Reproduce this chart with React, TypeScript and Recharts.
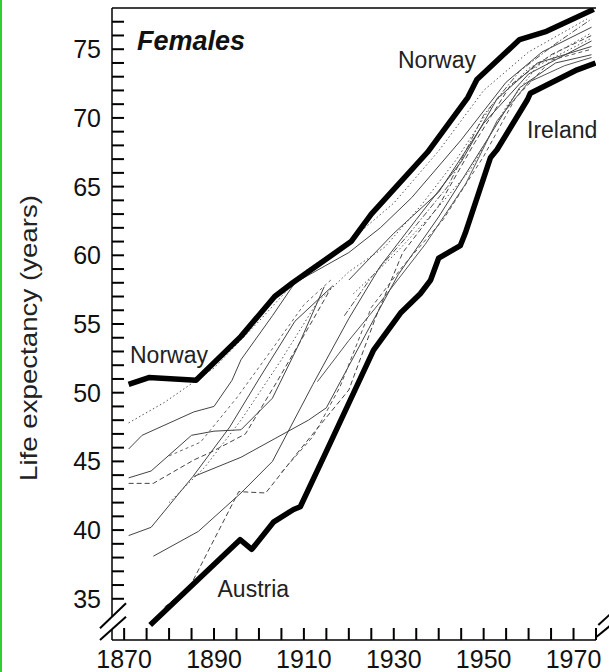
import React from 'react';
import { LineChart, Line, XAxis, YAxis } from 'recharts';

type P = { year: number; v: number | null };
const mk = (pts: [number, number | null][]): P[] => pts.map(([year, v]) => ({ year, v }));

// Thick envelope lines
const norway = mk([[1871,50.6],[1875.5,51.1],[1886,50.9],[1896,54.1],[1903.5,57.0],[1907.5,58.0],[1920.5,61.0],[1925,63.0],[1930,64.8],[1937.5,67.5],[1946.5,71.5],[1948.5,72.8],[1958,75.7],[1964,76.3],[1974.5,77.9]]);
const austriaIreland = mk([[1875.8,33.1],[1895.8,39.3],[1898.4,38.6],[1903.3,40.6],[1907.7,41.5],[1909.2,41.7],[1915.1,45.8],[1925.5,53.1],[1931.5,55.8],[1935.9,57.2],[1938.2,58.2],[1940,59.8],[1944.8,60.7],[1945.9,61.6],[1951.5,67.1],[1953,67.7],[1959.7,71.3],[1960.4,71.8],[1970.8,73.5],[1974.9,74.0]]);

// Thin lines (other countries)
const c1 = mk([[1871,45.9],[1874,46.9],[1885.5,48.6],[1890,49.0],[1894,50.9],[1896,52.4],[1903,55.6],[1908,58.0],[1920,60.2],[1927,62.0],[1934,64.2],[1945,68.4],[1955,72.6],[1963,74.8],[1974,76.6]]);
const c2 = mk([[1871,47.8],[1879,49.3],[1890,51.8],[1900,55.2],[1910,58.8],[1920,61.0],[1930,63.8],[1940,67.6],[1950,72.0],[1960,74.8],[1973,77.2]]);
const c3 = mk([[1871,43.8],[1876,44.3],[1885,46.9],[1890,47.2],[1896,47.3],[1903,49.6],[1909,53.6],[1914.5,57.7],[1917,null],[1920,58.2],[1930,61.6],[1940,64.6],[1950,69.6],[1960,73.2],[1974,75.6]]);
const c4 = mk([[1871,43.4],[1876.5,43.4],[1885.5,45.1],[1889.5,45.7],[1897,47.0],[1904,50.8],[1912,55.3],[1916,57.6]]);
const c5 = mk([[1871,39.6],[1876,40.2],[1885.3,43.9],[1893.5,47.5],[1900,51.0],[1908,55.2],[1916.5,57.8]]);
const c6 = mk([[1876.5,38.1],[1886.5,39.9],[1896,42.7],[1903,45.0],[1912,50.6],[1920,55.4],[1927,59.2],[1935,62.6],[1945,66.8],[1953,71.4],[1962,74.0],[1974,75.2]]);
const c7 = mk([[1879,34.4],[1884.5,35.8],[1895.5,42.8],[1901.5,42.7],[1909,45.8],[1920,50.2],[1926,55.5],[1932,60.2],[1940,63.6],[1948,68.2],[1956,72.4],[1965,74.6],[1974,76.0]]);
const c8 = mk([[1885.5,43.9],[1896,45.3],[1911,48.0],[1915,48.9],[1924.5,54.7],[1931,58.6],[1940,62.8],[1950,68.0],[1958,72.2],[1966,74.0],[1974,74.6]]);
const c9 = mk([[1880,45.4],[1887,46.4],[1895,49.6],[1903,53.2],[1910,56.4],[1916,58.2]]);
const c10 = mk([[1880,42.0],[1888,44.6],[1896,48.0],[1905,52.4],[1913,56.6],[1920,58.8],[1928,60.6],[1936,63.6],[1944,67.0],[1952,71.0],[1960,73.6],[1974,76.2]]);
const c11 = mk([[1919,55.6],[1925,58.4],[1933,61.4],[1942,65.0],[1950,70.2],[1958,73.4],[1966,75.4],[1974,77.2]]);
const c12 = mk([[1913,50.8],[1920,53.8],[1928,57.0],[1937,60.8],[1946,65.2],[1953,69.8],[1960,72.6],[1968,73.8],[1974,74.4]]);
const c13 = mk([[1921,57.2],[1930,60.0],[1938,62.8],[1947,66.2],[1955,70.8],[1962,73.8],[1974,75.8]]);
const c14 = mk([[1905,44.2],[1912,46.8],[1918,50.4],[1925,56.2],[1932,59.2],[1941,62.6],[1950,67.2],[1957,71.4],[1965,74.2],[1974,75.0]]);

const xTicks = [1870,1875,1880,1885,1890,1895,1900,1905,1910,1915,1920,1925,1930,1935,1940,1945,1950,1955,1960,1965,1970,1975];
const yTicks = [35,36,37,38,39,40,41,42,43,44,45,46,47,48,49,50,51,52,53,54,55,56,57,58,59,60,61,62,63,64,65,66,67,68,69,70,71,72,73,74,75,76,77];
const xDomain = [1867.3, 1975];
const yDomain = [32, 78];

const FONT = '"Liberation Sans", Arial, Helvetica, sans-serif';

const thin: { d: P[]; dash?: string; c: string }[] = [
  { d: c1, c: '#444' },
  { d: c2, dash: '1.5 2.5', c: '#555' },
  { d: c3, c: '#444' },
  { d: c4, dash: '5 3', c: '#444' },
  { d: c5, c: '#444' },
  { d: c6, c: '#444' },
  { d: c7, dash: '5 3', c: '#444' },
  { d: c8, c: '#444' },
  { d: c9, dash: '3 3', c: '#666' },
  { d: c10, dash: '1.5 2.5', c: '#555' },
  { d: c11, dash: '6 2 1.5 2', c: '#555' },
  { d: c12, c: '#555' },
  { d: c13, dash: '1.5 2.5', c: '#555' },
  { d: c14, dash: '4 3', c: '#555' },
];

const YTick = (p: any) => {
  const v = p.payload.value;
  if (v % 5 !== 0) return <g />;
  return (
    <text x={p.x} y={p.y} dy="0.36em" textAnchor="end" fontSize={25} fontFamily={FONT} fill="#111">{v}</text>
  );
};
const XTick = (p: any) => {
  const v = p.payload.value;
  if ((v - 1870) % 20 !== 0) return <g />;
  return (
    <text x={p.x} y={p.y} dy="0.71em" textAnchor="middle" fontSize={25} fontFamily={FONT} fill="#111">{v}</text>
  );
};

export default function App() {
  const tl = { stroke: '#000', strokeWidth: 2 };
  const al = { stroke: '#000', strokeWidth: 1.5 };
  return (
    <div style={{ position: 'absolute', left: 0, top: 0, width: 609, height: 672, background: '#fff', overflow: 'hidden' }}>
      <LineChart width={609} height={672} margin={{ top: 0, right: 0, bottom: 0, left: 0 }}>
        <XAxis xAxisId="b" type="number" dataKey="year" domain={xDomain} ticks={xTicks} allowDataOverflow
          height={32} tickSize={-12} tickMargin={22} tick={XTick} tickLine={tl} axisLine={al} interval={0} />
        <XAxis xAxisId="t" orientation="top" type="number" dataKey="year" domain={xDomain} ticks={xTicks} allowDataOverflow
          height={8} tickSize={-12} tick={false} tickLine={tl} axisLine={al} interval={0} />
        <YAxis yAxisId="l" type="number" domain={yDomain} ticks={yTicks} allowDataOverflow
          width={112} tickSize={-12} tickMargin={23} tick={YTick} tickLine={tl} axisLine={al} interval={0} />
        <YAxis yAxisId="r" orientation="right" type="number" domain={yDomain} ticks={yTicks} allowDataOverflow
          width={13} tickSize={13} tick={false} tickLine={tl} axisLine={false} interval={0} />
        {thin.map((s, i) => (
          <Line key={i} xAxisId="b" yAxisId="l" data={s.d} dataKey="v" type="linear" stroke={s.c}
            strokeWidth={1} strokeDasharray={s.dash} dot={false} activeDot={false} isAnimationActive={false} />
        ))}
        <Line xAxisId="b" yAxisId="l" data={norway} dataKey="v" type="linear" stroke="#000" strokeWidth={5.5}
          strokeLinejoin="round" dot={false} activeDot={false} isAnimationActive={false} />
        <Line xAxisId="b" yAxisId="l" data={austriaIreland} dataKey="v" type="linear" stroke="#000" strokeWidth={5.5}
          strokeLinejoin="round" dot={false} activeDot={false} isAnimationActive={false} />
      </LineChart>
      <svg width={609} height={672} style={{ position: 'absolute', left: 0, top: 0, pointerEvents: 'none' }}>
        <rect x={0} y={0} width={2} height={672} fill="#2fcf2f" />
        <polygon points="100,628.3 126,603.3 126,616.7 100,640" fill="#fff" />
        <line x1={100} y1={628.3} x2={126} y2={603.3} stroke="#000" strokeWidth={2} />
        <line x1={100} y1={640} x2={126} y2={616.7} stroke="#000" strokeWidth={2} />
        <line x1={596.7} y1={636.7} x2={612} y2={624.2} stroke="#000" strokeWidth={2} />
        <line x1={598.3} y1={625} x2={612} y2={612.5} stroke="#000" strokeWidth={2} />
        <text x={137} y={50} fontSize={27} fontWeight="bold" fontStyle="italic" fontFamily={FONT} fill="#111">Females</text>
        <text x={398} y={68} fontSize={23} fontFamily={FONT} fill="#222">Norway</text>
        <text x={130} y={362.5} fontSize={23} fontFamily={FONT} fill="#222">Norway</text>
        <text x={527} y={138} fontSize={23} fontFamily={FONT} fill="#222">Ireland</text>
        <text x={217.5} y={596.5} fontSize={23} fontFamily={FONT} fill="#222">Austria</text>
        <text transform="translate(37,338) rotate(-90)" textAnchor="middle" fontSize={24} textLength={286} lengthAdjust="spacingAndGlyphs" fontFamily={FONT} fill="#222">Life expectancy (years)</text>
      </svg>
    </div>
  );
}
